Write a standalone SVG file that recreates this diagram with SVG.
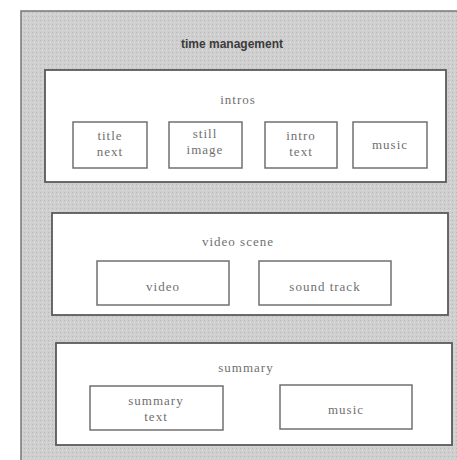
<svg xmlns="http://www.w3.org/2000/svg" width="457" height="460" viewBox="0 0 457 460">
<defs>
<pattern id="stip" width="4" height="4" patternUnits="userSpaceOnUse">
<rect width="4" height="4" fill="#cfcfcf"/>
<rect x="0" y="0" width="1" height="1" fill="#b8b8b8"/>
<rect x="2" y="2" width="1" height="1" fill="#e0e0e0"/>
</pattern>
</defs>
<style>
.frame{fill:url(#stip);stroke:#777;stroke-width:1.5}
.group{fill:#fff;stroke:#5a5a5a;stroke-width:1.8}
.item{fill:#fff;stroke:#707070;stroke-width:1.5}
.lbl{font-family:"Liberation Serif","Times New Roman",serif;font-size:13px;fill:#707070;text-anchor:middle;letter-spacing:1px}
.title{font-family:"Liberation Sans",Arial,sans-serif;font-size:12px;font-weight:bold;fill:#3a3a3a;text-anchor:middle}
</style>
<rect width="457" height="460" fill="#fff"/>
<g id="time-management">
<rect class="frame" x="21" y="11" width="460" height="470"/>
<text class="title" x="232" y="48">time management</text>
</g>
<g id="intros">
<rect class="group" x="45" y="70" width="401" height="112"/>
<text class="lbl" x="238" y="104">intros</text>
</g>
<g id="title-next">
<rect class="item" x="73" y="122" width="74" height="46"/>
<text class="lbl" x="110" y="140">title</text>
<text class="lbl" x="110" y="156">next</text>
</g>
<g id="still-image">
<rect class="item" x="169" y="122" width="73" height="46"/>
<text class="lbl" x="205" y="138">still</text>
<text class="lbl" x="205" y="154">image</text>
</g>
<g id="intro-text">
<rect class="item" x="265" y="122" width="72" height="46"/>
<text class="lbl" x="301" y="140">intro</text>
<text class="lbl" x="301" y="156">text</text>
</g>
<g id="intro-music">
<rect class="item" x="353" y="122" width="74" height="46"/>
<text class="lbl" x="390" y="149">music</text>
</g>
<g id="video-scene">
<rect class="group" x="52" y="213" width="396" height="102"/>
<text class="lbl" x="238" y="246">video scene</text>
</g>
<g id="video">
<rect class="item" x="97" y="261" width="132" height="44"/>
<text class="lbl" x="163" y="291">video</text>
</g>
<g id="sound-track">
<rect class="item" x="259" y="261" width="132" height="44"/>
<text class="lbl" x="325" y="291">sound track</text>
</g>
<g id="summary">
<rect class="group" x="56" y="343" width="396" height="102"/>
<text class="lbl" x="246" y="372">summary</text>
</g>
<g id="summary-text">
<rect class="item" x="90" y="386" width="133" height="44"/>
<text class="lbl" x="156" y="405">summary</text>
<text class="lbl" x="156" y="421">text</text>
</g>
<g id="summary-music">
<rect class="item" x="280" y="385" width="132" height="44"/>
<text class="lbl" x="346" y="414">music</text>
</g>
<g id="connectors"></g>
</svg>
